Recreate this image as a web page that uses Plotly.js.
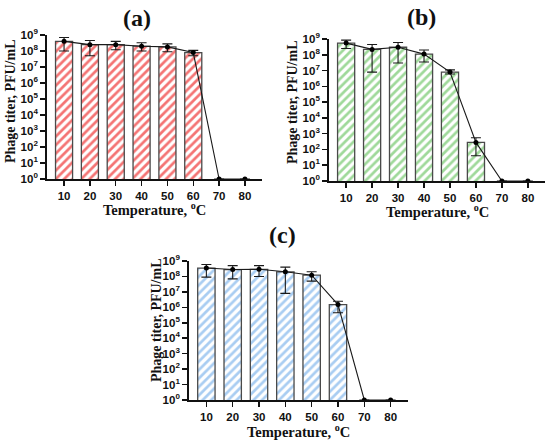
<!DOCTYPE html>
<html>
<head>
<meta charset="utf-8">
<script src="https://cdn.plot.ly/plotly-3.0.1.min.js"></script>
<style>html,body{margin:0;padding:0;background:#fff}#chart{width:550px;height:444px}</style>
</head>
<body>
<div id="chart"></div>
<script>
// Temperatures (°C)
var temps = [10, 20, 30, 40, 50, 60, 70, 80];

// Panel (a) – phage titer PFU/mL: mean, upper and lower error limits
var meanA = [4e8, 2.5e8, 2.5e8, 2e8, 1.8e8, 8e7, 1, 1];
var hiA   = [7e8, 4.5e8, 4e8, 3.3e8, 2.8e8, 1.1e8, 1, 1];
var loA   = [1e8, 5e7, 1.2e8, 1e8, 9e7, 5e7, 1, 1];

// Panel (b)
var meanB = [5.5e8, 2.2e8, 3e8, 1.1e8, 8e6, 280, 1, 1];
var hiB   = [8.5e8, 4.5e8, 6e8, 2e8, 1.1e7, 550, 1, 1];
var loB   = [2.5e8, 8e6, 3e7, 3.5e7, 6e6, 40, 1, 1];

// Panel (c)
var meanC = [3.5e8, 2.8e8, 2.9e8, 2e8, 1.2e8, 1.5e6, 1, 1];
var hiC   = [6e8, 5e8, 5e8, 4e8, 2e8, 2.5e6, 1, 1];
var loC   = [9e7, 7e7, 1e8, 8e6, 5e7, 4.5e5, 1, 1];

// Tick labels
var yTickVals = [1, 10, 100, 1e3, 1e4, 1e5, 1e6, 1e7, 1e8, 1e9];
var yTickText = ['10<sup>0</sup>','10<sup>1</sup>','10<sup>2</sup>','10<sup>3</sup>','10<sup>4</sup>',
                 '10<sup>5</sup>','10<sup>6</sup>','10<sup>7</sup>','10<sup>8</sup>','10<sup>9</sup>'];
var panelTitles = ['(a)', '(b)', '(c)'];
var xTitle = 'Temperature, <sup>o</sup>C';
var yTitle = 'Phage titer, PFU/mL';

var stripeColors = ['#f47474', '#9fd99a', '#a9cdf2'];

var panels = [
  {mean: meanA, hi: hiA, lo: loA, xa: 'x',  ya: 'y'},
  {mean: meanB, hi: hiB, lo: loB, xa: 'x2', ya: 'y2'},
  {mean: meanC, hi: hiC, lo: loC, xa: 'x3', ya: 'y3'}
];

var traces = [];
panels.forEach(function (p, i) {
  traces.push({
    type: 'bar', x: temps.slice(0, 6), y: p.mean.slice(0, 6), xaxis: p.xa, yaxis: p.ya,
    width: 6.6,
    marker: {color: 'white', line: {color: '#4a4a4a', width: 1.3},
             pattern: {shape: '/', fgcolor: stripeColors[i], bgcolor: 'white', size: 6, solidity: 0.45}},
    hoverinfo: 'skip'
  });
  var plus = p.hi.map(function (v, k) { return v - p.mean[k]; });
  var minus = p.mean.map(function (v, k) { return v - p.lo[k]; });
  traces.push({
    type: 'scatter', mode: 'lines+markers', x: temps, y: p.mean, xaxis: p.xa, yaxis: p.ya,
    line: {color: '#1a1a1a', width: 1.1},
    marker: {color: '#000', size: 5},
    error_y: {type: 'data', symmetric: false, array: plus, arrayminus: minus,
              color: '#1a1a1a', thickness: 1.1, width: 5}
  });
});

function px(v) { return v / 550; }
function py(v) { return (444 - v) / 444; }

var boxes = [
  {x0: 47, x1: 262, yb: 179, yt: 35},
  {x0: 329, x1: 545, yb: 181, yt: 39},
  {x0: 189, x1: 408, yb: 400, yt: 261}
];

var tickFont = {family: 'Liberation Sans, Arial, sans-serif', size: 11.5, color: '#111', weight: 'bold'};
var layout = {
  width: 550, height: 444, showlegend: false,
  margin: {l: 0, r: 0, t: 0, b: 0},
  paper_bgcolor: 'white', plot_bgcolor: 'white',
  annotations: []
};

var titlePos = [[137, 18], [422, 17], [282, 235]];
var yTitlePos = [[10, 101], [292, 102], [156, 320]];
var xTitlePos = [[154.5, 209], [437, 211], [298.5, 431]];

boxes.forEach(function (b, i) {
  var sfx = i === 0 ? '' : String(i + 1);
  layout['xaxis' + sfx] = {
    domain: [px(b.x0), px(b.x1)], range: [3.4, 86.6], anchor: 'y' + sfx,
    tickvals: temps, ticks: 'outside', ticklen: 5, tickwidth: 1.5, tickcolor: '#111',
    showline: true, linecolor: '#111', linewidth: 1.8, showgrid: false, zeroline: false,
    tickfont: tickFont, fixedrange: true
  };
  layout['yaxis' + sfx] = {
    domain: [py(b.yb), py(b.yt)], type: 'log', range: [0, 9], anchor: 'x' + sfx,
    tickvals: yTickVals, ticktext: yTickText, ticks: 'outside', ticklen: 5, tickwidth: 1.5, tickcolor: '#111',
    showline: true, linecolor: '#111', linewidth: 1.8, showgrid: false, zeroline: false,
    tickfont: tickFont, fixedrange: true
  };
  layout.annotations.push({
    xref: 'paper', yref: 'paper', x: px(titlePos[i][0]), y: py(titlePos[i][1]),
    xanchor: 'center', yanchor: 'middle', showarrow: false, text: panelTitles[i],
    font: {family: 'Liberation Serif, Times New Roman, serif', size: 24, color: '#111', weight: 'bold'}
  });
  layout.annotations.push({
    xref: 'paper', yref: 'paper', x: px(yTitlePos[i][0]), y: py(yTitlePos[i][1]),
    xanchor: 'center', yanchor: 'middle', showarrow: false, text: yTitle, textangle: -90,
    font: {family: 'Liberation Serif, Times New Roman, serif', size: 14, color: '#111', weight: 'bold'}
  });
  layout.annotations.push({
    xref: 'paper', yref: 'paper', x: px(xTitlePos[i][0]), y: py(xTitlePos[i][1]),
    xanchor: 'center', yanchor: 'middle', showarrow: false, text: xTitle,
    font: {family: 'Liberation Serif, Times New Roman, serif', size: 14.5, color: '#111', weight: 'bold'}
  });
});

Plotly.newPlot('chart', traces, layout, {staticPlot: true, displayModeBar: false});
</script>
</body>
</html>
